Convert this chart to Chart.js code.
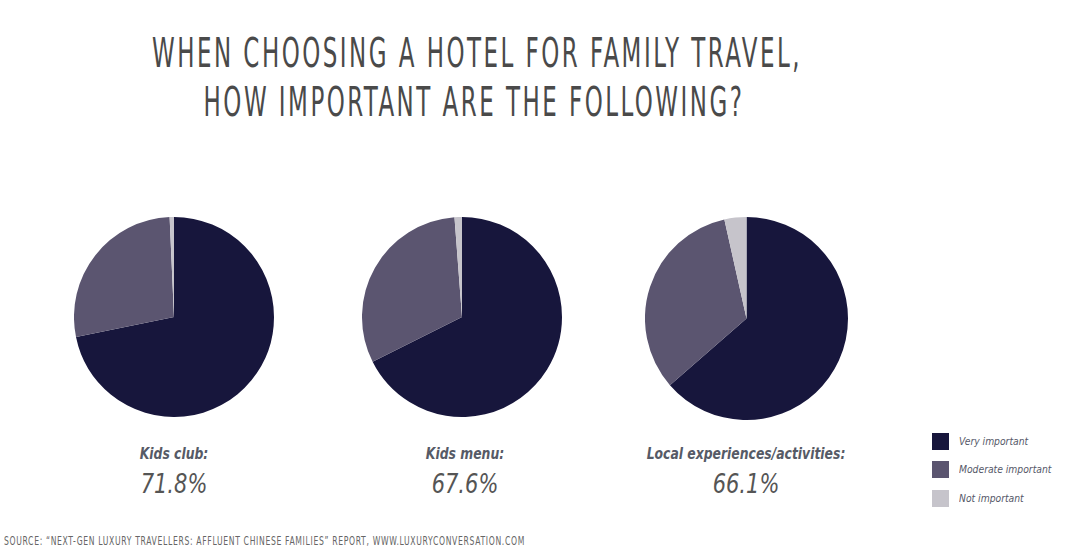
<!DOCTYPE html>
<html>
<head>
<meta charset="utf-8">
<script src="https://cdn.jsdelivr.net/npm/chart.js@4.4.1/dist/chart.umd.min.js"></script>
<style>
  html, body { margin: 0; padding: 0; background: #ffffff; }
  body { width: 1073px; height: 550px; position: relative; overflow: hidden;
         font-family: "Liberation Sans Narrow", "DejaVu Sans Condensed", "Liberation Sans", sans-serif; }
  .t { position: absolute; white-space: nowrap; display: inline-block; }
  canvas.pie { position: absolute; }
  .box { position: absolute; width: 17px; height: 17px; }
</style>
</head>
<body>
<script>
// ---------------- data ----------------
const titleLines = ['WHEN CHOOSING A HOTEL FOR FAMILY TRAVEL,', 'HOW IMPORTANT ARE THE FOLLOWING?'];
const categories = ['Kids club:', 'Kids menu:', 'Local experiences/activities:'];
const headlinePercent = ['71.8%', '67.6%', '66.1%'];
const seriesNames = ['Very important', 'Moderate important', 'Not important'];
const veryImportant = [71.8, 67.6, 63.6];
const moderateImportant = [27.5, 31.2, 32.9];
const notImportant = [0.7, 1.2, 3.5];
const seriesColors = ['#17163c', '#5b5570', '#c6c4cb'];
const sourceText = 'SOURCE: \u201CNEXT-GEN LUXURY TRAVELLERS: AFFLUENT CHINESE FAMILIES\u201D REPORT, WWW.LUXURYCONVERSATION.COM';

// ---------------- layout ----------------
const pieBoxes = [
  { left: 74, top: 217, size: 200, labelCx: 174 },
  { left: 362, top: 217, size: 200, labelCx: 465 },
  { left: 645, top: 217, size: 203, labelCx: 746 }
];

function makeText(txt, style) {
  const el = document.createElement('div');
  el.className = 't';
  el.textContent = txt;
  Object.assign(el.style, style);
  document.body.appendChild(el);
  return el;
}
function naturalWidth(el) { return el.getBoundingClientRect().width; }

// title
const titleStyle = { fontSize: '41px', lineHeight: '41px', color: '#4a4a4a', fontWeight: 'normal', letterSpacing: '4px' };
const t1 = makeText(titleLines[0], titleStyle);
const t2 = makeText(titleLines[1], titleStyle);
const titleScale = 650 / naturalWidth(t1);
[[t1, 477, 68], [t2, 474, 117]].forEach(([el, cx, base]) => {
  el.style.left = cx + 'px';
  el.style.top = (base - 0.85 * 41) + 'px';
  el.style.transformOrigin = 'center center';
  el.style.transform = 'translateX(-50%) scaleX(' + titleScale + ')';
});

// pies
pieBoxes.forEach((b, i) => {
  const c = document.createElement('canvas');
  c.className = 'pie';
  c.width = b.size; c.height = b.size;
  c.style.left = b.left + 'px'; c.style.top = b.top + 'px';
  c.style.width = b.size + 'px'; c.style.height = b.size + 'px';
  document.body.appendChild(c);
  new Chart(c, {
    type: 'pie',
    data: {
      labels: seriesNames,
      datasets: [{
        data: [veryImportant[i], moderateImportant[i], notImportant[i]],
        backgroundColor: seriesColors,
        borderWidth: 0
      }]
    },
    options: {
      responsive: false,
      animation: false,
      layout: { padding: 0 },
      plugins: { legend: { display: false }, tooltip: { enabled: false }, title: { display: false } }
    }
  });
});

// category labels and headline percentages
const catStyle = { fontSize: '16px', lineHeight: '16px', color: '#565a66', fontStyle: 'italic', fontWeight: 'bold' };
const pctStyle = { fontSize: '26px', lineHeight: '26px', color: '#555555', fontStyle: 'italic' };
const catEls = categories.map(c => makeText(c, catStyle));
const pctEls = headlinePercent.map(p => makeText(p, pctStyle));
const catScale = 198.7 / naturalWidth(catEls[2]);
const pctScale = 66.7 / naturalWidth(pctEls[0]);
pieBoxes.forEach((b, i) => {
  const ce = catEls[i];
  ce.style.left = b.labelCx + 'px';
  ce.style.top = (459.3 - 0.85 * 16) + 'px';
  ce.style.transformOrigin = 'center center';
  ce.style.transform = 'translateX(-50%) scaleX(' + catScale + ')';
  const pe = pctEls[i];
  pe.style.left = b.labelCx + 'px';
  pe.style.top = (492.7 - 0.85 * 26) + 'px';
  pe.style.transformOrigin = 'center center';
  pe.style.transform = 'translateX(-50%) scaleX(' + pctScale + ')';
});

// legend
const legStyle = { fontSize: '11px', lineHeight: '11px', color: '#555868', fontStyle: 'italic' };
const legEls = seriesNames.map(n => makeText(n, legStyle));
const legScale = 92.4 / naturalWidth(legEls[1]);
seriesNames.forEach((n, i) => {
  const top = 433 + i * 28.3;
  const bx = document.createElement('div');
  bx.className = 'box';
  bx.style.left = '932px'; bx.style.top = top + 'px';
  bx.style.background = seriesColors[i];
  document.body.appendChild(bx);
  const le = legEls[i];
  le.style.left = '959px';
  le.style.top = (top + 3) + 'px';
  le.style.transformOrigin = 'left center';
  le.style.transform = 'scaleX(' + legScale + ')';
});

// source
const src = makeText(sourceText, { fontSize: '13px', lineHeight: '13px', color: '#666666', letterSpacing: '1px' });
const srcScale = 521 / naturalWidth(src);
src.style.left = '4px';
src.style.top = (545 - 0.85 * 13) + 'px';
src.style.transformOrigin = 'left center';
src.style.transform = 'scaleX(' + srcScale + ')';
</script>
</body>
</html>
